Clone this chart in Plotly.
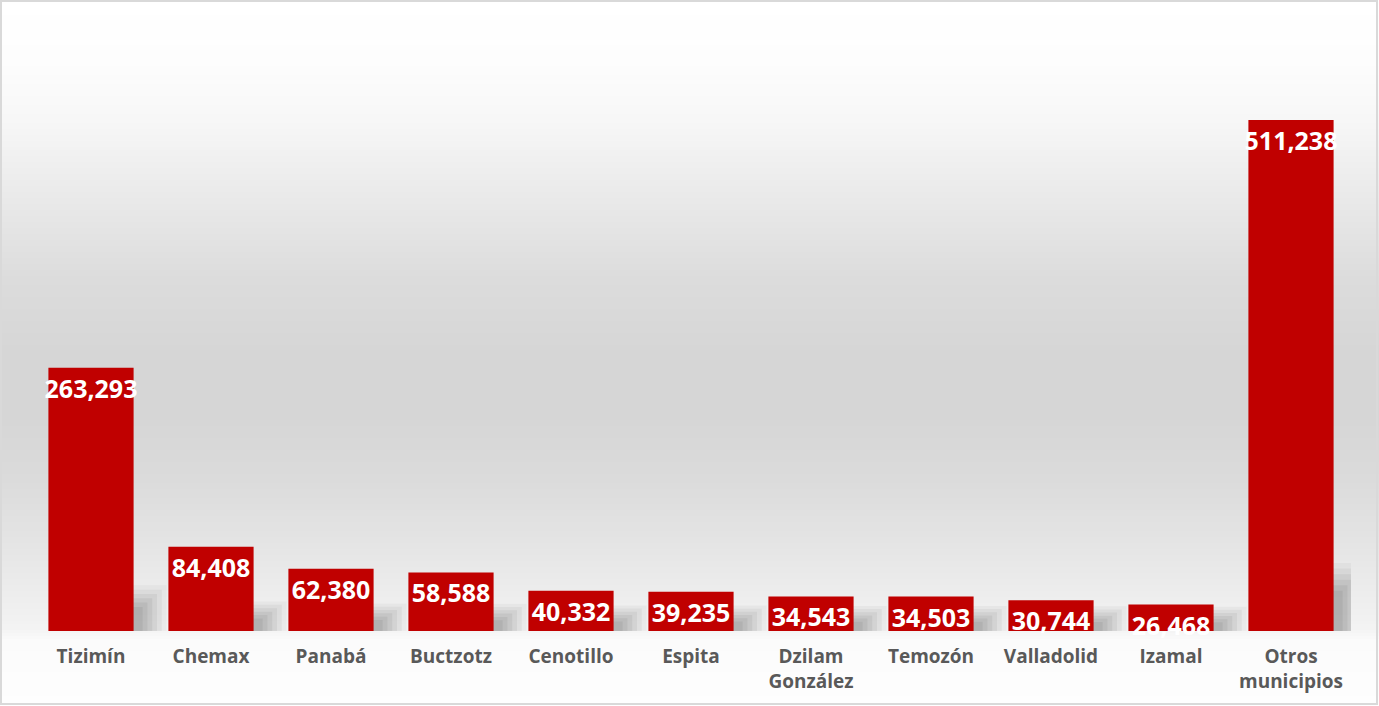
import plotly.graph_objects as go

# ---- data ----
municipios = ["Tizimín", "Chemax", "Panabá", "Buctzotz", "Cenotillo", "Espita",
              "Dzilam<br>González", "Temozón", "Valladolid", "Izamal", "Otros<br>municipios"]
poblacion = [263293, 84408, 62380, 58588, 40332, 39235, 34543, 34503, 30744, 26468, 511238]

# ---- layout geometry (pixels) ----
W, H = 1379, 706
ML, MR, MT, MB = 31, 28, 20, 75
PW, PH = W - ML - MR, H - MT - MB

def px_x(px):
    return (px - ML) / PW

def px_y(py):
    return (H - MB - py) / PH

# background gradient stops (pixel y, grey level)
stops = [(0, 255), (60, 253), (120, 247), (200, 233), (280, 220), (350, 214),
         (420, 214), (480, 219), (540, 228), (600, 238), (628, 243), (640, 251), (706, 254)]

def grey_at(py):
    for (a, ca), (b, cb) in zip(stops[:-1], stops[1:]):
        if a <= py <= b:
            t = (py - a) / (b - a)
            return int(round(ca + (cb - ca) * t))
    return 255

shapes = []
step = 3
for py in range(0, H, step):
    g = grey_at(py + step / 2)
    shapes.append(dict(type="rect", xref="paper", yref="paper", layer="below",
                       x0=px_x(0), x1=px_x(W), y0=px_y(py + step), y1=px_y(py),
                       fillcolor=f"rgb({g},{g},{g})", line=dict(width=0)))
# frame
shapes.append(dict(type="rect", xref="paper", yref="paper", layer="above",
                   x0=px_x(1), x1=px_x(W - 2), y0=px_y(H - 2), y1=px_y(1),
                   line=dict(color="#d9d9d9", width=2), fillcolor="rgba(0,0,0,0)"))

fig = go.Figure()

# soft blurred shadows behind bars (several translucent layers)
shadow_layers = [(0.09, 22000, 0.47, 0.06), (0.085, 19000, 0.43, 0.08),
                 (0.08, 16000, 0.39, 0.09), (0.075, 13000, 0.35, 0.10),
                 (0.07, 10000, 0.31, 0.11), (0.065, 7000, 0.27, 0.12)]
for k, c, wid, op in shadow_layers:
    fig.add_trace(go.Bar(
        x=municipios, y=[v * k + c for v in poblacion],
        width=wid, offset=0.16, marker=dict(color=f"rgba(100,100,100,{op})", line=dict(width=0)),
        hoverinfo="skip", showlegend=False))

fig.add_trace(go.Bar(
    x=municipios, y=poblacion, width=0.71,
    marker=dict(color="#C00000", line=dict(width=0)),
    texttemplate="%{y:,}", textposition="inside", insidetextanchor="end",
    textangle=0, constraintext="none", cliponaxis=False,
    textfont=dict(family="Open Sans", size=25, color="white", weight="bold"),
    showlegend=False))

fig.update_layout(
    width=W, height=H,
    margin=dict(l=ML, r=MR, t=MT, b=MB),
    paper_bgcolor="white", plot_bgcolor="rgba(0,0,0,0)",
    barmode="overlay",
    shapes=shapes,
    xaxis=dict(showgrid=False, zeroline=False, showline=False, ticks="",
               ticklabelstandoff=12,
               tickfont=dict(family="Open Sans", size=19, color="#595959", weight="bold"),
               range=[-0.5, 10.5]),
    yaxis=dict(visible=False, range=[0, 511238 * PH / 511], showgrid=False),
    font=dict(family="Open Sans"),
)

fig.write_html("out.html", config={"displayModeBar": False},
               post_script="document.body.style.margin='0';document.body.style.overflow='hidden';")
